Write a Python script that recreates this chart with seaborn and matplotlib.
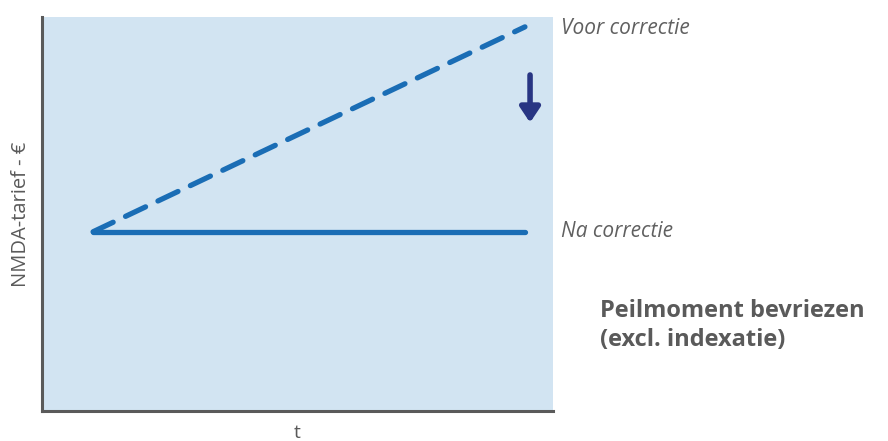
import matplotlib
matplotlib.use("Agg")
import matplotlib.pyplot as plt
import pandas as pd
import seaborn as sns

# data
t_points = [1.0, 9.45]
voor_correctie = [4.55, 9.75]
na_correctie = [4.55, 4.55]
labels = ["Voor correctie", "Na correctie"]

LINE = "#1a6db5"
GREY = "#5a5a5a"

sns.set_style("white")
plt.rcParams["font.family"] = ["Open Sans", "DejaVu Sans"]

df = pd.DataFrame({
    "t": t_points * 2,
    "tarief": voor_correctie + na_correctie,
    "scenario": [labels[0]] * 2 + [labels[1]] * 2,
})

fig = plt.figure(figsize=(8.88, 4.41), dpi=100)
ax = fig.add_axes([0.0473, 0.068, 0.5755, 0.8934])
ax.set_facecolor("#d2e4f2")

sns.lineplot(data=df, x="t", y="tarief", hue="scenario", style="scenario",
             palette=[LINE, LINE], dashes=[(4.2, 2.6), ""], linewidth=3.8,
             legend=False, ax=ax)
for line in ax.lines:
    line.set_solid_capstyle("round")
    line.set_dash_capstyle("round")

ax.set_xlim(0, 10)
ax.set_ylim(0, 10)
ax.set_xticks([])
ax.set_yticks([])
for s in ["top", "right"]:
    ax.spines[s].set_visible(False)
for s in ["left", "bottom"]:
    ax.spines[s].set_color(GREY)
    ax.spines[s].set_linewidth(2.2)

ax.set_xlabel("t", color=GREY, fontsize=14, labelpad=9)
ax.set_ylabel("NMDA-tarief - €", color=GREY, fontsize=14.5, labelpad=8)

# arrow showing the correction
ax.annotate("", xy=(9.55, 7.25), xytext=(9.55, 8.6),
            arrowprops=dict(arrowstyle="-|>,head_width=0.6,head_length=0.9",
                            color="#283583", lw=4))

ax.text(10.15, voor_correctie[1] - 0.05, labels[0], style="italic", color="#606060",
        fontsize=15, va="center", ha="left", clip_on=False)
ax.text(10.15, na_correctie[1], labels[1], style="italic", color="#606060",
        fontsize=15, va="center", ha="left", clip_on=False)

fig.text(0.676, 0.262, "Peilmoment bevriezen\n(excl. indexatie)", color=GREY,
         fontsize=17, fontweight="bold", va="center", ha="left", linespacing=1.25)

fig.savefig("out.png", dpi=100)
